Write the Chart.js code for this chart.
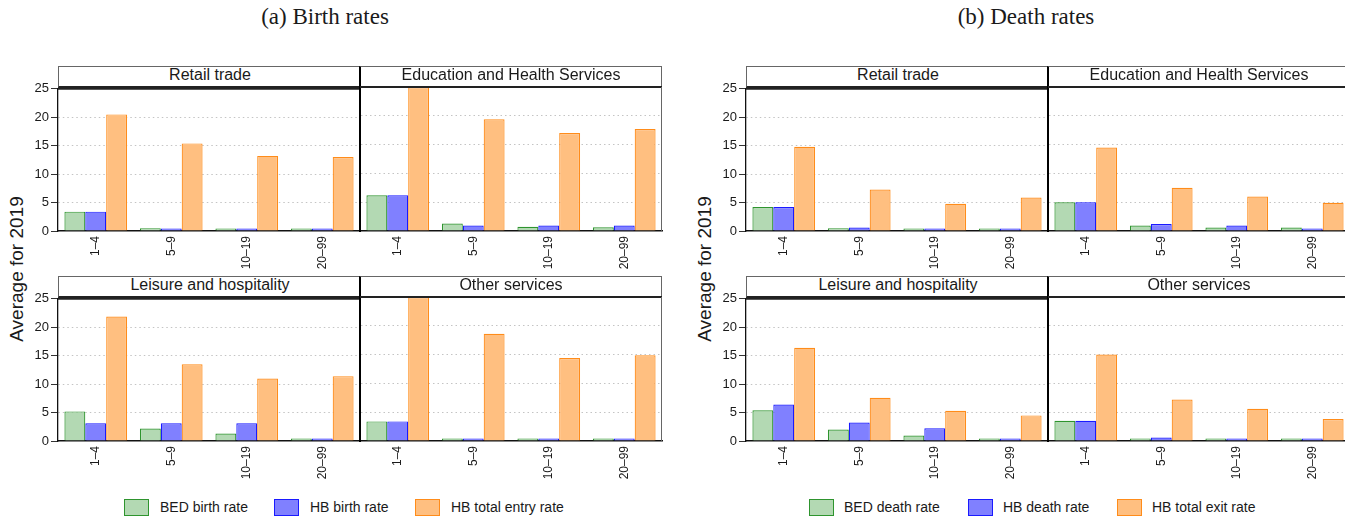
<!DOCTYPE html>
<html>
<head>
<meta charset="utf-8">
<script src="https://cdn.jsdelivr.net/npm/chart.js@4.4.0/dist/chart.umd.min.js"></script>
<style>
  html, body { margin: 0; padding: 0; background: #fff; overflow: hidden; }
  #page { position: relative; width: 1345px; height: 516px; overflow: hidden;
          font-family: "Liberation Sans", Arial, sans-serif; color: #1a1a1a; }
  .title { position: absolute; top: 4px; width: 300px; text-align: center;
           font-family: "Liberation Serif", "Times New Roman", serif; font-size: 23px; }
  .ytitle { position: absolute; width: 220px; height: 24px; line-height: 24px; text-align: center;
            font-size: 19px; white-space: nowrap; transform: rotate(-90deg); transform-origin: 50% 50%; }
  .strip { position: absolute; box-sizing: border-box; height: 22px; text-align: center;
           font-size: 16px; line-height: 15px; white-space: nowrap; overflow: hidden;
           border-top: 1px solid #666; border-bottom: 2px solid #222; }
  .strip.first { border-left: 1px solid #666; }
  .strip.second { border-left: 2px solid #000; border-right: 1px solid #666; }
  canvas { position: absolute; }
  .lg-box { position: absolute; box-sizing: border-box; width: 25px; height: 17px; top: 499px; border: 1.5px solid; }
  .lg-text { position: absolute; top: 497px; height: 20px; line-height: 20px; font-size: 14px; white-space: nowrap; }
</style>
</head>
<body>
<div id="page"></div>
<script>
// Firm size classes on the x axis and the four sectors (facets)
const sizeClasses = ['1–4', '5–9', '10–19', '20–99'];
const sectors = ['Retail trade', 'Education and Health Services', 'Leisure and hospitality', 'Other services'];
const yTicks = [0, 5, 10, 15, 20, 25];

// Birth rates, one row per sector (same order as `sectors`), one value per size class
const bedBirthRate = [
  [3.4, 0.5, 0.25, 0.25],
  [6.2, 1.3, 0.75, 0.65],
  [5.2, 2.2, 1.3, 0.4],
  [3.4, 0.4, 0.3, 0.12]
];
const hbBirthRate = [
  [3.4, 0.35, 0.4, 0.4],
  [6.2, 0.95, 0.95, 0.95],
  [3.1, 3.1, 3.1, 0.4],
  [3.4, 0.35, 0.35, 0.35]
];
const hbTotalEntryRate = [
  [20.5, 15.4, 13.2, 13.0],
  [25.0, 19.4, 17.0, 17.7],
  [21.9, 13.5, 11.0, 11.4],
  [25.0, 18.6, 14.4, 14.9]
];

// Death rates
const bedDeathRate = [
  [4.2, 0.5, 0.25, 0.25],
  [5.0, 0.95, 0.6, 0.6],
  [5.4, 2.0, 0.95, 0.25],
  [3.5, 0.4, 0.25, 0.15]
];
const hbDeathRate = [
  [4.2, 0.6, 0.25, 0.25],
  [5.0, 1.2, 0.95, 0.35],
  [6.4, 3.25, 2.25, 0.25],
  [3.5, 0.6, 0.25, 0.06]
];
const hbTotalExitRate = [
  [14.8, 7.3, 4.8, 5.9],
  [14.5, 7.5, 6.0, 4.9],
  [16.4, 7.6, 5.3, 4.5],
  [15.0, 7.2, 5.6, 3.8]
];

const seriesFill   = ['#b3d9b3', '#8080ff', '#ffbf80'];
const seriesBorder = ['#2e942e', '#1a1aff', '#ff8c1a'];

const page = document.getElementById('page');
const FONT = '"Liberation Sans", Arial, sans-serif';

function el(tag, cls, style, text) {
  const e = document.createElement(tag);
  if (cls) e.className = cls;
  Object.assign(e.style, style);
  if (text !== undefined) e.textContent = text;
  page.appendChild(e);
  return e;
}

// Draws the top frame line and, for the right-hand facet, the grey right border
function framePlugin(drawRight) {
  return {
    id: 'facetFrame',
    afterDraw(chart) {
      const a = chart.chartArea, ctx = chart.ctx;
      ctx.save();
      ctx.strokeStyle = '#222';
      ctx.lineWidth = 2;
      ctx.beginPath();
      ctx.moveTo(a.left, a.top);
      ctx.lineTo(a.right, a.top);
      ctx.stroke();
      if (drawRight) {
        ctx.strokeStyle = '#666';
        ctx.lineWidth = 1;
        ctx.beginPath();
        ctx.moveTo(a.right - 0.5, a.top);
        ctx.lineTo(a.right - 0.5, a.bottom);
        ctx.stroke();
      }
      ctx.restore();
    }
  };
}

const AREA_W = 302, AREA_H = 144, PAD_TOP = 8, X_H = 40;

function facet(areaLeft, areaTop, firstCol, sectorIdx, series, names) {
  const yW = firstCol ? 38 : 10;
  const padRight = firstCol ? 0 : 4;
  const c = document.createElement('canvas');
  c.width = yW + AREA_W + padRight;
  c.height = PAD_TOP + AREA_H + X_H;
  c.style.left = (areaLeft - yW) + 'px';
  c.style.top = (areaTop - PAD_TOP) + 'px';
  page.appendChild(c);

  new Chart(c, {
    type: 'bar',
    data: {
      labels: sizeClasses,
      datasets: series.map((s, k) => ({
        label: names[k],
        data: s[sectorIdx],
        backgroundColor: seriesFill[k],
        borderColor: seriesBorder[k],
        borderWidth: 1.2,
        borderSkipped: 'start',
        minBarLength: 2.5,
        categoryPercentage: 0.83,
        barPercentage: 1.0
      }))
    },
    options: {
      responsive: false,
      animation: false,
      devicePixelRatio: 1,
      layout: { padding: { top: PAD_TOP, right: padRight, left: 0, bottom: 0 } },
      plugins: { legend: { display: false }, tooltip: { enabled: false } },
      scales: {
        x: {
          type: 'category',
          offset: true,
          grid: { display: false, drawTicks: false },
          border: { display: true, color: '#111', width: 1.5 },
          ticks: { minRotation: 90, maxRotation: 90, autoSkip: false, padding: 5,
                   color: '#1a1a1a', font: { family: FONT, size: 12 } },
          afterFit(s) { s.height = X_H; }
        },
        y: {
          min: 0, max: 25,
          afterBuildTicks(s) { s.ticks = yTicks.map(v => ({ value: v })); },
          ticks: { display: firstCol, padding: 2, color: '#1a1a1a', font: { family: FONT, size: 13 } },
          grid: {
            color: ctx => (ctx.tick && ctx.tick.value > 0 && ctx.tick.value < 25) ? '#c4c4c4' : 'rgba(0,0,0,0)',
            lineWidth: 1,
            drawTicks: firstCol,
            tickLength: 7,
            tickColor: '#333',
            tickWidth: 1
          },
          border: { display: true, color: firstCol ? '#111' : '#000', width: firstCol ? 1.3 : 2, dash: [1.5, 3] },
          afterFit(s) { s.width = yW; }
        }
      }
    },
    plugins: [framePlugin(!firstCol)]
  });
}

function panel(x0, titleCenter, titleText, series, names, legendBoxes, legendTexts) {
  // x0 is the left edge of the first facet column
  el('div', 'title', { left: (titleCenter - 150) + 'px' }, titleText);
  el('div', 'ytitle', { left: (x0 - 41 - 110) + 'px', top: (269 - 12) + 'px' }, 'Average for 2019');

  const rows = [87, 297];
  for (let r = 0; r < 2; r++) {
    for (let col = 0; col < 2; col++) {
      const idx = r * 2 + col;
      const left = x0 + col * AREA_W;
      const top = rows[r];
      if (col === 0) {
        el('div', 'strip first', { left: left + 'px', top: (top - 21) + 'px', width: (AREA_W + 1) + 'px' }, sectors[idx]);
      } else {
        el('div', 'strip second', { left: (left - 1) + 'px', top: (top - 21) + 'px', width: (AREA_W + 1) + 'px' }, sectors[idx]);
      }
      facet(left, top, col === 0, idx, series, names);
    }
  }

  names.forEach((n, k) => {
    el('div', 'lg-box', { left: legendBoxes[k] + 'px', background: seriesFill[k], borderColor: seriesBorder[k] });
    el('div', 'lg-text', { left: legendTexts[k] + 'px' }, n);
  });
}

panel(58, 325, '(a) Birth rates',
  [bedBirthRate, hbBirthRate, hbTotalEntryRate],
  ['BED birth rate', 'HB birth rate', 'HB total entry rate'],
  [124, 274, 415], [160, 310, 451]);

panel(746, 1026, '(b) Death rates',
  [bedDeathRate, hbDeathRate, hbTotalExitRate],
  ['BED death rate', 'HB death rate', 'HB total exit rate'],
  [809, 968, 1117], [844, 1003, 1152]);
</script>
</body>
</html>
